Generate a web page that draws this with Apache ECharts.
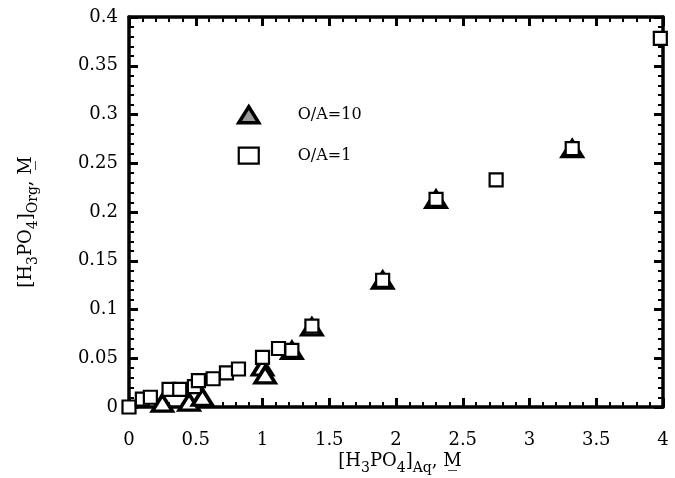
<!DOCTYPE html>
<html>
<head>
<meta charset="utf-8">
<script src="https://cdn.jsdelivr.net/npm/echarts@6/dist/echarts.min.js"></script>
<style>html,body{margin:0;padding:0;background:#fff}#c{width:675px;height:478px}</style>
</head>
<body>
<div id="c"></div>
<script>
// O/A = 1 (squares)
const sqX = [0, 0.1, 0.16, 0.3, 0.38, 0.49, 0.52, 0.63, 0.73, 0.82, 1.0, 1.12, 1.22, 1.37, 1.9, 2.3, 2.75, 3.32, 3.98];
const sqY = [0, 0.008, 0.01, 0.018, 0.018, 0.021, 0.027, 0.029, 0.035, 0.039, 0.051, 0.06, 0.058, 0.083, 0.13, 0.213, 0.233, 0.265, 0.378];
// O/A = 10 (triangles)
const trX = [0.25, 0.45, 0.55, 1.0, 1.02, 1.22, 1.37, 1.9, 2.3, 3.32];
const trY = [0.004, 0.005, 0.01, 0.041, 0.033, 0.058, 0.082, 0.13, 0.213, 0.265];
const xTitle = '{n|[H}{s|3}{n|PO}{s|4}{n|]}{s|Aq}{n|, M\u0332}';
const yTitle = '{n|[H}{s|3}{n|PO}{s|4}{n|]}{s|Org}{n|, M\u0332}';

const FONT = 'DejaVu Serif';
const pair = (xs, ys) => xs.map((x, i) => [x, ys[i]]);
const fmt = v => String(Math.round(v * 1000) / 1000);
const XR = {min: 0, max: 4, interval: 0.5};
const YR = {min: 0, max: 0.4, interval: 0.05};

function axisCommon(pos, r, showLabel, margin) {
  return Object.assign({
    type: 'value', position: pos, gridIndex: 0,
    axisLine: {show: true, onZero: false, lineStyle: {color: '#000', width: 3.5}},
    axisTick: {show: true, inside: true, length: 9, lineStyle: {color: '#000', width: 3}},
    minorTick: {show: true, splitNumber: 5, length: 5, lineStyle: {color: '#000', width: 2}},
    splitLine: {show: false},
    axisLabel: {show: showLabel, margin: margin, fontFamily: FONT, fontSize: 18, color: '#000', formatter: fmt}
  }, r);
}
const rich = {
  n: {fontFamily: FONT, fontSize: 18, lineHeight: 28, verticalAlign: 'middle', fill: '#000', color: '#000'},
  s: {fontFamily: FONT, fontSize: 14, lineHeight: 14, verticalAlign: 'bottom', fill: '#000', color: '#000'}
};

// Plot area
const G = {left: 129, right: 12, top: 17, bottom: 71};
const W = 675, H = 478;
const pl = G.left, pr = W - G.right, pt = G.top, pb = H - G.bottom;

const grids = [Object.assign({}, G)];
const xAxes = [axisCommon('bottom', XR, true, 24), axisCommon('top', XR, false, 8)];
const yAxes = [axisCommon('left', YR, true, 11), axisCommon('right', YR, false, 8)];

// tick strips: drawn through the axis split lines of narrow grids along the frame
function strip(isX, gridBox, r, minor) {
  const gi = grids.length;
  grids.push(gridBox);
  const lines = {
    type: 'value', gridIndex: gi, show: true,
    axisLine: {show: false}, axisTick: {show: false}, axisLabel: {show: false},
    splitLine: {show: !minor, lineStyle: {color: '#000', width: 3}},
    minorTick: {show: false, splitNumber: 5},
    minorSplitLine: {show: minor, lineStyle: {color: '#000', width: 2}}
  };
  Object.assign(lines, r);
  const hidden = {type: 'value', gridIndex: gi, show: false, min: 0, max: 1};
  if (isX) { xAxes.push(lines); yAxes.push(hidden); }
  else { yAxes.push(lines); xAxes.push(hidden); }
}
const MAJ = 9, MIN = 5;
// bottom and top
strip(true, {left: pl, width: pr - pl, top: pb - MAJ, height: MAJ}, XR, false);
strip(true, {left: pl, width: pr - pl, top: pb - MIN, height: MIN}, XR, true);
strip(true, {left: pl, width: pr - pl, top: pt, height: MAJ}, XR, false);
strip(true, {left: pl, width: pr - pl, top: pt, height: MIN}, XR, true);
// left and right
strip(false, {left: pl, width: MAJ, top: pt, height: pb - pt}, YR, false);
strip(false, {left: pl, width: MIN, top: pt, height: pb - pt}, YR, true);
strip(false, {left: pr - MAJ, width: MAJ, top: pt, height: pb - pt}, YR, false);
strip(false, {left: pr - MIN, width: MIN, top: pt, height: pb - pt}, YR, true);

const chart = echarts.init(document.getElementById('c'));
chart.setOption({
  animation: false,
  grid: grids,
  legend: {
    orient: 'vertical', left: 232, top: 100, itemGap: 22,
    itemWidth: 20, itemHeight: 16,
    textStyle: {fontFamily: FONT, fontSize: 16, color: '#000', padding: [0, 0, 0, 34]},
    data: [
      {name: 'O/A=10', icon: 'triangle', itemStyle: {color: '#999', borderColor: '#000', borderWidth: 3.5}},
      {name: 'O/A=1', icon: 'rect', itemStyle: {color: '#fff', borderColor: '#000', borderWidth: 2.2}}
    ]
  },
  graphic: [
    {type: 'text', x: 400, y: 461, style: {text: xTitle, rich: rich, align: 'center', verticalAlign: 'middle'}},
    {type: 'text', x: 26, y: 222, rotation: Math.PI / 2, style: {text: yTitle, rich: rich, align: 'center', verticalAlign: 'middle'}}
  ],
  xAxis: xAxes,
  yAxis: yAxes,
  series: [
    {name: 'O/A=10', type: 'scatter', xAxisIndex: 0, yAxisIndex: 0, z: 5,
     symbol: 'triangle', symbolSize: [20, 16],
     itemStyle: {color: '#fff', borderColor: '#000', borderWidth: 3.5, opacity: 1},
     data: pair(trX, trY)},
    {name: 'O/A=1', type: 'scatter', xAxisIndex: 0, yAxisIndex: 0, z: 6,
     symbol: 'rect', symbolSize: 13,
     itemStyle: {color: '#fff', borderColor: '#000', borderWidth: 2.2, opacity: 1},
     data: pair(sqX, sqY)}
  ]
});
</script>
</body>
</html>
